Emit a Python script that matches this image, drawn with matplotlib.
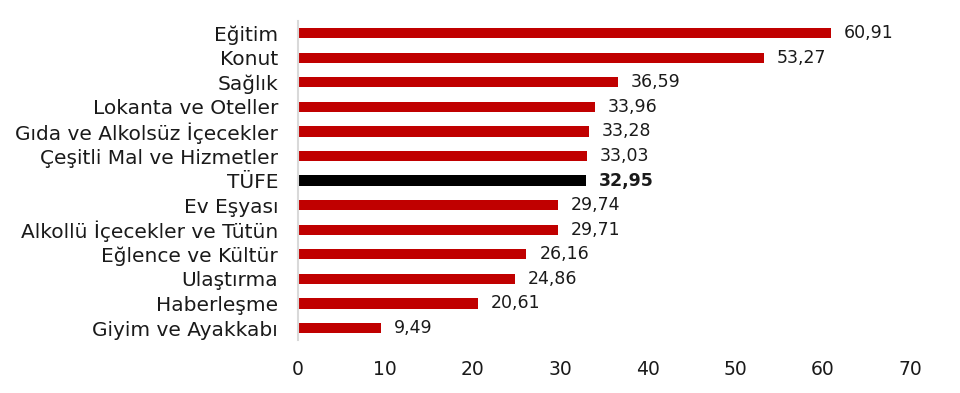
import matplotlib.pyplot as plt

plt.rcParams['font.family'] = ['DejaVu Sans']

categories = ["Eğitim", "Konut", "Sağlık", "Lokanta ve Oteller",
              "Gıda ve Alkolsüz İçecekler", "Çeşitli Mal ve Hizmetler", "TÜFE",
              "Ev Eşyası", "Alkollü İçecekler ve Tütün", "Eğlence ve Kültür",
              "Ulaştırma", "Haberleşme", "Giyim ve Ayakkabı"]
values = [60.91, 53.27, 36.59, 33.96, 33.28, 33.03, 32.95,
          29.74, 29.71, 26.16, 24.86, 20.61, 9.49]
highlight = "TÜFE"

fig = plt.figure(figsize=(9.6, 3.93), dpi=100)
ax = fig.add_axes([0.310, 0.134, 0.638, 0.813])

ypos = list(range(len(categories)))
colors = ["black" if c == highlight else "#c00000" for c in categories]
ax.barh(ypos, values, height=0.42, color=colors)

for y, v, c in zip(ypos, values, categories):
    ax.text(v + 1.5, y, f"{v:.2f}".replace(".", ","), va="center", ha="left",
            fontsize=12.5, color="#1a1a1a",
            fontweight="bold" if c == highlight else "normal")

ax.set_yticks(ypos)
ax.set_yticklabels(categories, fontsize=14.5, color="#1a1a1a")
ax.set_ylim(len(categories) - 0.5, -0.5)
ax.set_xlim(0, 70)
ax.set_xticks(range(0, 71, 10))
ax.tick_params(axis="x", labelsize=13.5, labelcolor="#1a1a1a", length=0, pad=14)
ax.tick_params(axis="y", length=0, pad=14)

for s in ["top", "right", "bottom"]:
    ax.spines[s].set_visible(False)
ax.spines["left"].set_color("#d9d9d9")
ax.spines["left"].set_linewidth(1.5)

fig.savefig("out.png", dpi=100)
